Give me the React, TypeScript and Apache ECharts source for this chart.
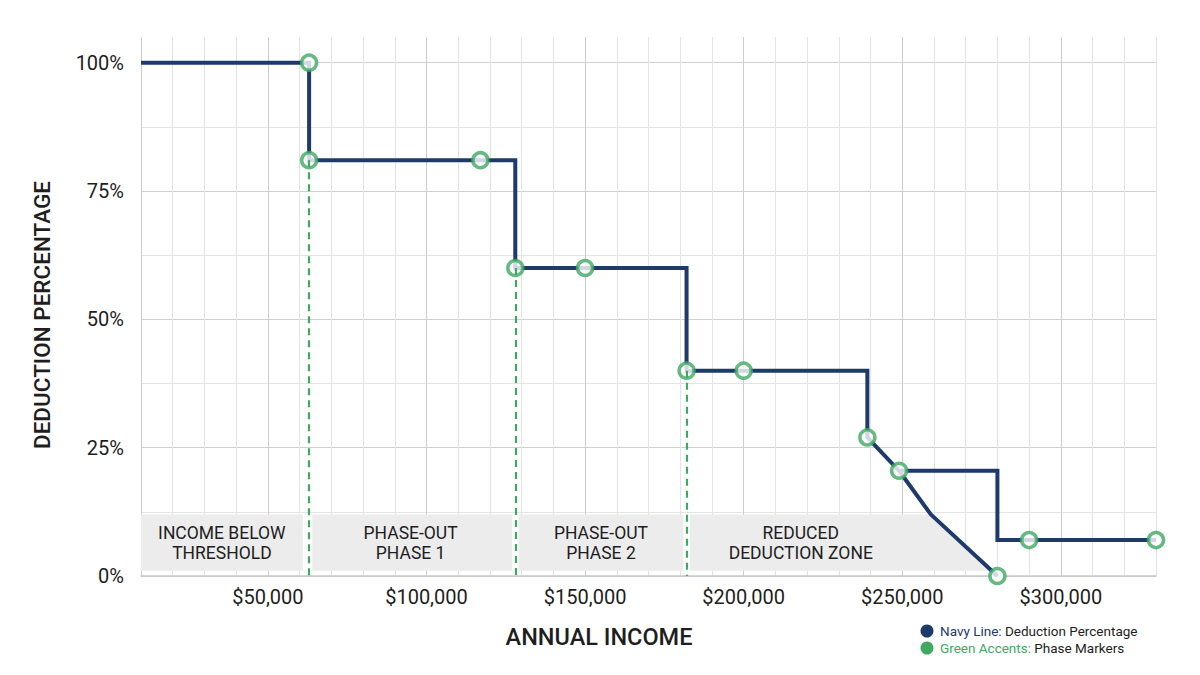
import { useRef, useEffect } from 'react';
import * as echarts from 'echarts';

// step line (income, deduction %)
const incomeSteps = [10000, 63000, 63000, 128000, 128000, 182000, 182000, 239000, 239000, 249000, 280000, 280000, 330000];
const deductionSteps = [100, 100, 81, 81, 60, 60, 40, 40, 27, 20.5, 20.5, 7, 7];

// diagonal branch towards zero
const branchIncome = [249000, 259000, 280000];
const branchDeduction = [20.5, 12, 0];

// green phase markers
const markerIncome = [63000, 63000, 117000, 128000, 150000, 182000, 200000, 239000, 249000, 280000, 290000, 330000];
const markerDeduction = [100, 81, 81, 60, 60, 40, 40, 27, 20.5, 0, 7, 7];

// dashed phase boundaries
const guideIncome = [63000, 128000, 182000];
const guideDeduction = [81, 60, 40];

// shaded zones along the bottom
const zoneLabels = ['INCOME BELOW\nTHRESHOLD', 'PHASE-OUT\nPHASE 1', 'PHASE-OUT\nPHASE 2', 'REDUCED\nDEDUCTION ZONE'];
const zoneStart = [10000, 64000, 129000, 183000];
const zoneEndTop = [61000, 127000, 181000, 259000];
const zoneEndBottom = [61000, 127000, 181000, 278000];
const zoneLabelAt = [35500, 95000, 155000, 218000];
const zoneLow = 1;
const zoneHigh = 12;

const NAVY = '#1d3a6b';
const GREEN = '#3fa962';
const TEXT = '#1e1e1e';

const xTicks = Array.from({ length: 33 }, (_, i) => 10000 * (i + 1));
const yTicks = [0, 12.5, 25, 37.5, 50, 62.5, 75, 87.5, 100, 105];

export default function App() {
  const chartRef = useRef<HTMLDivElement>(null);
  useEffect(() => {
    let chart: echarts.ECharts | undefined;
    if (chartRef.current) {
      chart = echarts.init(chartRef.current, undefined, { renderer: 'svg' });
      chart.setOption({
        animation: false,
        backgroundColor: '#ffffff',
        textStyle: { fontFamily: 'Roboto' },
        grid: { left: 141, right: 44, top: 37, bottom: 99 },
        xAxis: {
          type: 'value',
          min: 10000,
          max: 330000,
          interval: 10000,
          axisLine: { show: true, lineStyle: { color: '#c9c9c9', width: 1.5 } },
          axisTick: { show: false },
          axisLabel: {
            fontSize: 20,
            color: TEXT,
            margin: 11,
            formatter: (v: number) => (v % 50000 === 0 ? '$' + v.toLocaleString('en-US') : ''),
          },
          splitLine: {
            show: true,
            lineStyle: {
              width: 1,
              color: xTicks.map((v) => (v % 50000 === 0 || v === 10000 ? '#cdcdcd' : '#e4e4e4')),
            },
          },
        },
        yAxis: {
          type: 'value',
          min: 0,
          max: 105,
          interval: 12.5,
          axisLine: { show: false },
          axisTick: { show: false },
          axisLabel: {
            fontSize: 20,
            color: TEXT,
            margin: 17,
            formatter: (v: number) => (v % 25 === 0 && v <= 100 ? v + '%' : ''),
          },
          splitLine: {
            show: true,
            lineStyle: {
              width: 1,
              color: yTicks.map((v) => (v > 100 ? 'rgba(0,0,0,0)' : v % 25 === 0 ? '#d0d0d0' : '#e4e4e4')),
            },
          },
        },
        graphic: [
          {
            type: 'text',
            x: 599,
            y: 637,
            style: {
              text: 'ANNUAL INCOME',
              fill: TEXT,
              font: '500 23.5px Roboto',
              textAlign: 'center',
              textVerticalAlign: 'middle',
            },
          },
          {
            type: 'text',
            x: 42,
            y: 315,
            rotation: Math.PI / 2,
            style: {
              text: 'DEDUCTION PERCENTAGE',
              fill: TEXT,
              font: '500 22.5px Roboto',
              textAlign: 'center',
              textVerticalAlign: 'middle',
            },
          },
          { type: 'circle', shape: { cx: 927, cy: 631, r: 6.5 }, style: { fill: NAVY } },
          { type: 'circle', shape: { cx: 927, cy: 648, r: 6.5 }, style: { fill: GREEN } },
          {
            type: 'text',
            x: 940,
            y: 631,
            style: {
              text: '{a|Navy Line:} {b|Deduction Percentage}',
              textVerticalAlign: 'middle',
              rich: {
                a: { fill: NAVY, fontSize: 13.5, fontFamily: 'Roboto' },
                b: { fill: TEXT, fontSize: 13.5, fontFamily: 'Roboto' },
              },
            },
          },
          {
            type: 'text',
            x: 940,
            y: 648,
            style: {
              text: '{a|Green Accents:} {b|Phase Markers}',
              textVerticalAlign: 'middle',
              rich: {
                a: { fill: GREEN, fontSize: 13.5, fontFamily: 'Roboto' },
                b: { fill: TEXT, fontSize: 13.5, fontFamily: 'Roboto' },
              },
            },
          },
        ],
        series: [
          {
            name: 'Zones',
            type: 'custom',
            z: 1,
            silent: true,
            data: zoneLabels.map((_, i) => [i]),
            renderItem: (_params: any, api: any) => {
              const i = api.value(0);
              const p1 = api.coord([zoneStart[i], zoneLow]);
              const p2 = api.coord([zoneStart[i], zoneHigh]);
              const p3 = api.coord([zoneEndTop[i], zoneHigh]);
              const p4 = api.coord([zoneEndBottom[i], zoneLow]);
              const c = api.coord([zoneLabelAt[i], (zoneLow + zoneHigh) / 2]);
              return {
                type: 'group',
                children: [
                  {
                    type: 'polygon',
                    shape: { points: [p1, p2, p3, p4] },
                    style: { fill: '#ececec' },
                  },
                  {
                    type: 'text',
                    x: c[0],
                    y: c[1],
                    style: {
                      text: zoneLabels[i],
                      fill: TEXT,
                      fontSize: 17.5,
                      fontFamily: 'Roboto',
                      lineHeight: 20,
                      align: 'center',
                      verticalAlign: 'middle',
                    },
                  },
                ],
              };
            },
          },
          {
            name: 'Guides',
            type: 'line',
            z: 2,
            data: [],
            markLine: {
              silent: true,
              symbol: ['none', 'none'],
              label: { show: false },
              lineStyle: { color: GREEN, type: [7, 5], width: 2.2 },
              data: guideIncome.map((x, i) => [
                { coord: [x, guideDeduction[i]] },
                { coord: [x, 0] },
              ]),
            },
          },
          {
            name: 'Deduction Percentage',
            type: 'line',
            z: 3,
            clip: false,
            symbol: 'none',
            lineStyle: { color: NAVY, width: 4, join: 'miter' },
            data: incomeSteps.map((x, i) => [x, deductionSteps[i]]),
          },
          {
            name: 'Branch',
            type: 'line',
            z: 3,
            clip: false,
            symbol: 'none',
            lineStyle: { color: NAVY, width: 4 },
            data: branchIncome.map((x, i) => [x, branchDeduction[i]]),
          },
          {
            name: 'Phase Markers',
            type: 'scatter',
            z: 4,
            clip: false,
            symbol: 'circle',
            symbolSize: 15,
            itemStyle: { color: '#ffffff', borderColor: GREEN, borderWidth: 3.5 },
            data: markerIncome.map((x, i) => [x, markerDeduction[i]]),
          },
        ],
      });
    }
    return () => {
      chart?.dispose();
    };
  }, []);

  return (
    <div
      ref={chartRef}
      style={{ position: 'fixed', left: 0, top: 0, width: '1200px', height: '675px' }}
    />
  );
}
